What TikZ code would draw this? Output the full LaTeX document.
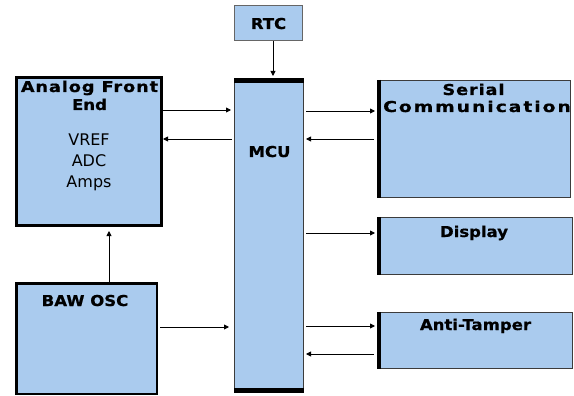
\documentclass[tikz,border=0pt]{standalone}
\usepackage{fontspec}
\setmainfont{DejaVu Sans}
\newfontfamily\ttlfont{DejaVu Sans Bold}[FakeStretch=1.1,FakeBold=0.8]
\newfontfamily\ttlwide{DejaVu Sans Bold}[FakeStretch=1.18,FakeBold=0.8,LetterSpace=6]
\newfontfamily\ttlwider{DejaVu Sans Bold}[FakeStretch=1.25,FakeBold=0.8,LetterSpace=13]
\usetikzlibrary{arrows.meta,positioning}
\definecolor{boxblue}{RGB}{170,203,238}
\definecolor{edgegrey}{RGB}{60,60,60}

\begin{document}
\begin{tikzpicture}[x=1pt,y=-1pt,
    blk/.style={fill=boxblue,draw=edgegrey,line width=1pt,inner sep=0pt},
    heavy/.style={blk,draw=black,line width=#1},
    bar/.style={draw=black,line width=#1},
    conn/.style={draw=black,line width=0.9pt,-{Triangle[length=5pt,width=5pt]}},
    ttl/.style={inner sep=0pt,font=\ttlfont\fontsize{15}{18}\selectfont},
    body/.style={inner sep=0pt,align=center,font=\fontsize{16}{21}\selectfont}]
  \useasboundingbox (0,0) rectangle (574,396);

  % blocks
  \node[heavy=3pt,minimum width=145pt,minimum height=148pt] (afe) at (89,151.5) {};
  \node[heavy=2.5pt,minimum width=140.5pt,minimum height=110.5pt] (baw) at (86.5,338.5) {};
  \node[blk,draw=black!60,line width=1.2pt,minimum width=68pt,minimum height=35pt] (rtc) at (268.5,23) {};
  \node[blk,minimum width=69pt,minimum height=314pt] (mcu) at (269,235.5) {};
  \node[blk,minimum width=193pt,minimum height=117pt] (serial) at (474,139) {};
  \node[blk,minimum width=195pt,minimum height=57pt] (disp) at (475,246) {};
  \node[blk,minimum width=195pt,minimum height=56pt] (anti) at (475,340.5) {};

  % heavy edges
  \draw[bar=5pt] ([yshift=-2.5pt]mcu.north west) -- ([yshift=-2.5pt]mcu.north east);
  \draw[bar=5pt] ([yshift=2.5pt]mcu.south west) -- ([yshift=2.5pt]mcu.south east);
  \draw[bar=4pt] ([xshift=2pt]serial.north west) -- ([xshift=2pt]serial.south west);
  \draw[bar=4pt] ([xshift=2pt]disp.north west) -- ([xshift=2pt]disp.south west);
  \draw[bar=4pt] ([xshift=2pt]anti.north west) -- ([xshift=2pt]anti.south west);

  % titles
  \node[ttl,anchor=base] (afet1) at (89.5,92) {{\ttlwide Analog Front}};
  \node[ttl,anchor=base] (afet2) at (89.5,110) {End};
  \node[body,anchor=north] (afeb) at (89,133.3) {VREF\\ADC\\Amps};
  \node[ttl,anchor=base] (rtct) at (268.5,29) {RTC};
  \node[ttl,anchor=base] (mcut) at (269.5,157) {MCU};
  \node[ttl,anchor=base] (sert1) at (473.5,95) {{\ttlwide Serial}};
  \node[ttl,anchor=base] (sert2) at (477,112) {{\ttlwider Communication}};
  \node[ttl,anchor=base] (dispt) at (474,237) {Display};
  \node[ttl,anchor=base] (antit) at (475.5,330) {Anti-Tamper};
  \node[ttl,anchor=base] (bawt) at (85,306) {BAW OSC};

  % connectors
  \draw[conn,shorten >=3pt] ([yshift=41.5pt]afe.east) -- ([yshift=41.5pt]afe.east -| mcu.west);
  \draw[conn,shorten <=2pt] ([yshift=12.5pt]afe.east -| mcu.west) -- ([yshift=12.5pt]afe.east);
  \draw[conn,shorten >=4pt] ([xshift=22.5pt]baw.north) -- ([xshift=22.5pt]baw.north |- afe.south);
  \draw[conn,shorten <=2pt,shorten >=5pt] ([yshift=11.5pt]baw.east) -- ([yshift=11.5pt]baw.east -| mcu.west);
  \draw[conn,shorten >=2pt] ([xshift=4.5pt]rtc.south) -- ([xshift=4.5pt]rtc.south |- mcu.north);
  \draw[conn,shorten <=2pt,shorten >=2pt] ([yshift=28pt]serial.west -| mcu.east) -- ([yshift=28pt]serial.west);
  \draw[conn,shorten <=3pt,shorten >=2pt] (serial.west) -- (serial.west -| mcu.east);
  \draw[conn,shorten <=2pt,shorten >=2pt] ([yshift=13pt]disp.west -| mcu.east) -- ([yshift=13pt]disp.west);
  \draw[conn,shorten <=2pt,shorten >=2pt] ([yshift=14.5pt]anti.west -| mcu.east) -- ([yshift=14.5pt]anti.west);
  \draw[conn,shorten <=3pt,shorten >=2pt] ([yshift=-13.5pt]anti.west) -- ([yshift=-13.5pt]anti.west -| mcu.east);
\end{tikzpicture}
\end{document}
